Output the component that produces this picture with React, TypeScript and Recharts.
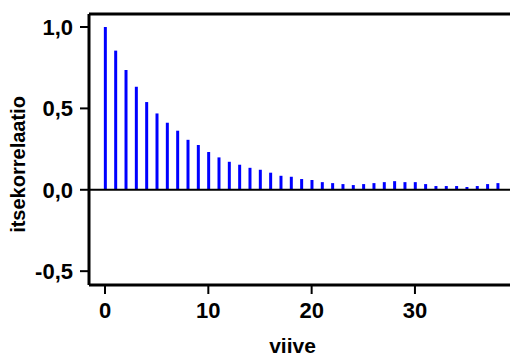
import { Bar, BarChart, Label, ReferenceLine, XAxis, YAxis } from "recharts";

const lags = [
  0, 1, 2, 3, 4, 5, 6, 7, 8, 9, 10, 11, 12, 13, 14, 15, 16, 17, 18, 19, 20,
  21, 22, 23, 24, 25, 26, 27, 28, 29, 30, 31, 32, 33, 34, 35, 36, 37, 38,
];
const acf = [
  1.0, 0.855, 0.736, 0.633, 0.539, 0.469, 0.412, 0.363, 0.307, 0.275, 0.232,
  0.199, 0.172, 0.154, 0.135, 0.123, 0.105, 0.086, 0.08, 0.066, 0.06, 0.047,
  0.041, 0.035, 0.029, 0.035, 0.041, 0.047, 0.053, 0.047, 0.047, 0.035, 0.023,
  0.023, 0.023, 0.017, 0.023, 0.035, 0.041,
];
const xTicks = [0, 10, 20, 30];
const yTicks = [-0.5, 0, 0.5, 1];

const data = lags.map((lag, i) => ({ lag, value: acf[i] }));

const font = '"Liberation Sans", Arial, sans-serif';
const fmt = (v: number) => v.toFixed(1).replace(".", ",");

export default function App() {
  return (
    <div style={{ position: "absolute", left: 0, top: 0, background: "#fff" }}>
      <BarChart
        width={510}
        height={356}
        data={data}
        margin={{ top: 14, right: 0, bottom: 0, left: 0 }}
        barSize={3}
      >
        <XAxis
          dataKey="lag"
          type="number"
          domain={[-1.55, 39.2]}
          allowDataOverflow
          ticks={xTicks}
          height={71}
          axisLine={{ stroke: "#000", strokeWidth: 3 }}
          tickLine={{ stroke: "#000", strokeWidth: 2 }}
          tickSize={9}
          tickMargin={8}
          tick={{ fontSize: 22, fontWeight: "bold", fill: "#000", fontFamily: font }}
        >
          <Label
            content={({ viewBox }: any) => (
              <text
                x={viewBox.x + viewBox.width / 2 - 7}
                y={viewBox.y + viewBox.height - 3}
                textAnchor="middle"
                fontSize={21}
                fontWeight="bold"
                fontFamily={font}
                fill="#000"
              >
                viive
              </text>
            )}
          />
        </XAxis>
        <YAxis
          type="number"
          domain={[-0.585, 1.08]}
          allowDataOverflow
          ticks={yTicks}
          width={89}
          tickFormatter={fmt}
          axisLine={{ stroke: "#000", strokeWidth: 3 }}
          tickLine={{ stroke: "#000", strokeWidth: 2 }}
          tickSize={9}
          tickMargin={7}
          tick={{ fontSize: 22, fontWeight: "bold", fill: "#000", fontFamily: font }}
        >
          <Label
            content={({ viewBox }: any) => (
              <text
                x={0}
                y={0}
                transform={`translate(${viewBox.x + 25}, ${viewBox.y + viewBox.height / 2 + 15}) rotate(-90)`}
                textAnchor="middle"
                fontSize={20}
                fontWeight="bold"
                fontFamily={font}
                fill="#000"
              >
                itsekorrelaatio
              </text>
            )}
          />
        </YAxis>
        <Bar dataKey="value" fill="#0000ff" isAnimationActive={false} />
        <ReferenceLine y={0} stroke="#000" strokeWidth={2} />
        <ReferenceLine y={1.08} stroke="#000" strokeWidth={3} ifOverflow="extendDomain" />
      </BarChart>
    </div>
  );
}
